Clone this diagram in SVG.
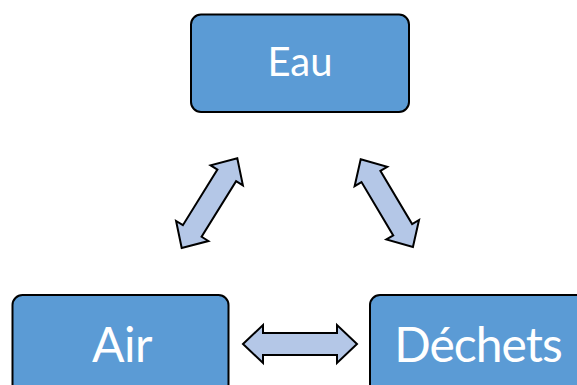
<svg xmlns="http://www.w3.org/2000/svg" width="577" height="385" viewBox="0 0 577 385">
<style>
.box{fill:#5B9BD5;stroke:#000;stroke-width:2}
.lbl{fill:#fff;font-family:Lato,"Open Sans",sans-serif;text-anchor:middle}
.arr{fill:#B4C7E7;stroke:#000;stroke-width:2;stroke-linejoin:miter}
</style>
<rect width="577" height="385" fill="#fff"/>
<g id="connectors">
<polygon class="arr" points="243,344 263,325 263,333 337,333 337,325 357,344 337,363 337,355 263,355 263,363"/>
<polygon class="arr" transform="translate(181.7,248) rotate(-58.2)" points="0,0 20,-19 20,-11 85.5,-11 85.5,-19 105.5,0 85.5,19 85.5,11 20,11 20,19"/>
<polygon class="arr" transform="translate(360.7,159.3) rotate(59.2)" points="0,0 20,-19 20,-11 82,-11 82,-19 102,0 82,19 82,11 20,11 20,19"/>
</g>
<g id="node-eau">
<rect class="box" x="191" y="14.5" width="218" height="97.5" rx="10"/>
<text class="lbl" x="300" y="75.7" font-size="40">Eau</text>
</g>
<g id="node-air">
<rect class="box" x="12.5" y="295" width="216" height="100" rx="10"/>
<text class="lbl" x="122" y="361.7" font-size="48" letter-spacing="-0.5">Air</text>
</g>
<g id="node-dechets">
<rect class="box" x="370" y="295" width="217" height="100" rx="10"/>
<text class="lbl" x="478" y="361.7" font-size="48" letter-spacing="-1">Déchets</text>
</g>
</svg>
